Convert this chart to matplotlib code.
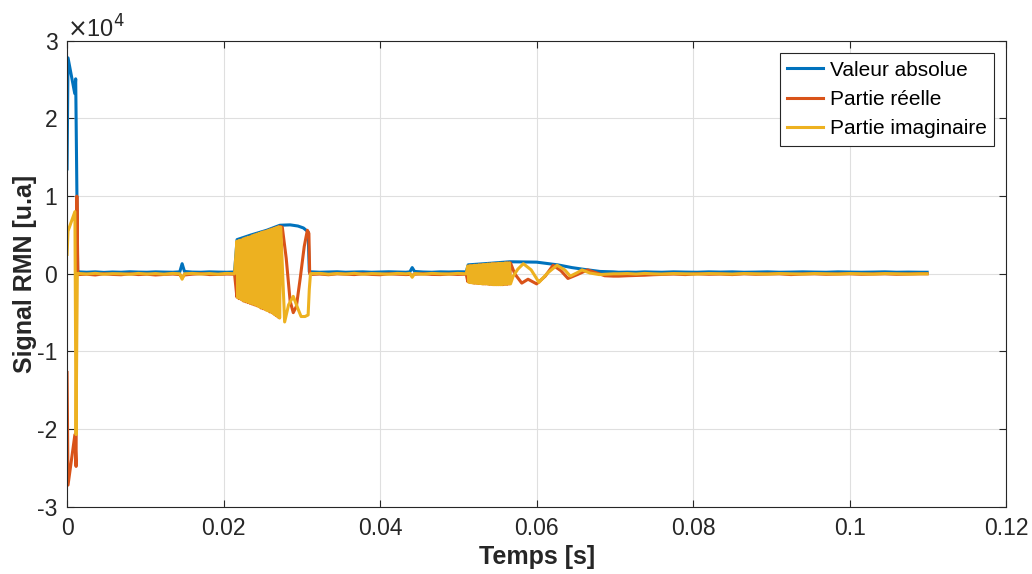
import numpy as np
import matplotlib
matplotlib.use('Agg')
import matplotlib.pyplot as plt
from matplotlib.ticker import FuncFormatter, MultipleLocator

plt.rcParams['font.family'] = ['Liberation Sans', 'DejaVu Sans']
plt.rcParams['axes.unicode_minus'] = False

labels = ['Valeur absolue', 'Partie réelle', 'Partie imaginaire']
colors = ['#0072BD', '#D95319', '#EDB120']

# initial spike
ini_t_abs = [0.0, 0.00012, 0.00098, 0.00110, 0.00126, 0.00135]
ini_abs = [13500, 27800, 23200, 25100, 9900, 250]
ini_t_re = [0.0, 0.00012, 0.00100, 0.00115, 0.00125, 0.00138]
ini_re = [-12700, -27200, -20700, -24800, 10000, -100]
ini_t_im = [0.0, 0.00012, 0.00100, 0.00115, 0.00130]
ini_im = [2500, 5500, 8000, -20700, 0]

# quiet part 1
q1_t = [0.0014, 0.0025, 0.0036, 0.0047, 0.0058, 0.0069, 0.0080, 0.0091, 0.0102, 0.0113,
        0.0124, 0.0135, 0.0144, 0.0147, 0.0150, 0.0160, 0.0171, 0.0182, 0.0193, 0.0204, 0.0214]
q1_abs = [250, 200, 250, 180, 230, 200, 260, 220, 200, 250, 220, 200, 250, 1300, 300, 220, 200, 250, 220, 200, 230]
q1_re = [-100, -50, -150, 0, -80, -120, 0, -100, -50, -150, -80, -30, -100, -500, -150, -50, 20, -100, -80, -30, -50]
q1_im = [50, -30, 60, -50, 20, 0, -60, 50, -30, 30, -50, 50, 0, -700, 0, 50, -30, 30, -50, 50, 0]

# burst 1 (dense part)
b1_t = [0.02170, 0.02184, 0.02198, 0.02212, 0.02226, 0.02240, 0.02254, 0.02268, 0.02282, 0.02296,
        0.02310, 0.02324, 0.02338, 0.02352, 0.02366, 0.02380, 0.02394, 0.02408, 0.02422, 0.02436,
        0.02450, 0.02464, 0.02478, 0.02492, 0.02506, 0.02520, 0.02534, 0.02548, 0.02562, 0.02576,
        0.02590, 0.02604, 0.02618, 0.02632, 0.02646, 0.02660, 0.02674, 0.02688, 0.02702, 0.02716]
b1_im = [4200, -3100, 4300, -3200, 4350, -3400, 4500, -3500, 4600, -3600, 4700, -3700, 4750, -3800,
         4900, -3900, 5000, -4000, 5100, -4150, 5200, -4300, 5300, -4400, 5400, -4500, 5450, -4700,
         5550, -4800, 5650, -4900, 5750, -5100, 5850, -5300, 5950, -5500, 6050, -5700]
b1_re = [-3000, 4200, -3200, 4300, -3300, 4400, -3500, 4500, -3600, 4600, -3700, 4700, -3800, 4800,
         -3900, 4900, -4000, 5000, -4100, 5100, -4200, 5200, -4400, 5300, -4500, 5400, -4600, 5500,
         -4700, 5600, -4900, 5700, -5000, 5800, -5200, 5900, -5400, 6000, -5600, 6100]
# burst 1 (slow part)
b1s_t_re = [0.02750, 0.02800, 0.02850, 0.02890, 0.02930, 0.02980, 0.03030, 0.03070, 0.03090, 0.03100, 0.03110]
b1s_re = [6000, 2000, -3500, -5000, -4200, -500, 3500, 5600, 5200, 0, -50]
b1s_t_im = [0.02730, 0.02780, 0.02830, 0.02890, 0.02950, 0.02990, 0.03040, 0.03080, 0.03095, 0.03110]
b1s_im = [6000, -6200, -4000, -2900, -4500, -5500, -5500, -5300, -2000, 0]
b1_t_abs = [0.02172, 0.0235, 0.0255, 0.0272, 0.0285, 0.0295, 0.0302, 0.0308, 0.03095]
b1_abs = [4400, 5000, 5600, 6250, 6300, 6150, 5900, 5400, 250]

# quiet part 2
q2_t = [0.0312, 0.0323, 0.0334, 0.0345, 0.0356, 0.0367, 0.0378, 0.0389, 0.0400, 0.0411,
        0.0422, 0.0433, 0.0438, 0.0441, 0.0444, 0.0455, 0.0466, 0.0477, 0.0488, 0.0499, 0.0510]
q2_abs = [250, 200, 230, 260, 200, 230, 250, 200, 230, 260, 230, 200, 250, 800, 300, 230, 200, 250, 230, 260, 250]
q2_re = [-80, -30, -120, 0, -50, -100, 0, -80, -120, 0, -50, -100, -80, -200, -50, 0, -80, -100, -30, -80, -50]
q2_im = [30, 50, -50, 30, -30, 60, -50, 30, 0, -50, 50, 0, 50, -450, 30, -50, 50, 0, -30, 50, 0]

# burst 2 (dense part)
b2_t = [0.05120, 0.05134, 0.05148, 0.05162, 0.05176, 0.05190, 0.05204, 0.05218, 0.05232, 0.05246,
        0.05260, 0.05274, 0.05288, 0.05302, 0.05316, 0.05330, 0.05344, 0.05358, 0.05372, 0.05386,
        0.05400, 0.05414, 0.05428, 0.05442, 0.05456, 0.05470, 0.05484, 0.05498, 0.05512, 0.05526,
        0.05540, 0.05554, 0.05568, 0.05582, 0.05596, 0.05610, 0.05624, 0.05638, 0.05652, 0.05666]
b2_im = [1000, -1100, 1050, -1150, 1050, -1200, 1100, -1200, 1100, -1250, 1150, -1250, 1150, -1300,
         1200, -1300, 1200, -1300, 1250, -1350, 1250, -1350, 1300, -1400, 1300, -1400, 1300, -1400,
         1350, -1400, 1350, -1400, 1350, -1350, 1400, -1350, 1400, -1300, 1400, -1300]
b2_re = [-1000, 1000, -1100, 1050, -1150, 1050, -1200, 1100, -1200, 1100, -1250, 1150, -1250, 1150,
         -1300, 1200, -1300, 1200, -1300, 1250, -1350, 1250, -1350, 1300, -1400, 1300, -1400, 1300,
         -1400, 1350, -1400, 1350, -1400, 1350, -1350, 1400, -1350, 1400, -1300, 1400]
# burst 2 (slow part)
b2s_t_re = [0.0572, 0.0581, 0.0589, 0.0600, 0.0611, 0.0621, 0.0631, 0.0640, 0.0652, 0.0665, 0.0677, 0.0687, 0.0698]
b2s_re = [0, -1200, -700, -1300, -300, 1100, 400, -600, -100, 500, 100, -250, -300]
b2s_t_im = [0.0570, 0.0576, 0.0583, 0.0593, 0.0603, 0.0614, 0.0626, 0.0636, 0.0643, 0.0651, 0.0658, 0.0668, 0.0680, 0.0698]
b2s_im = [-300, 600, 1300, 500, -1100, 100, 1100, 500, -300, 100, 500, 100, -100, 0]
b2_t_abs = [0.05125, 0.0540, 0.0566, 0.0600, 0.0627, 0.0645, 0.0662, 0.0681, 0.0698]
b2_abs = [1150, 1350, 1550, 1500, 1150, 800, 550, 300, 250]

# quiet part 3
q3_t = [0.0705, 0.0716, 0.0727, 0.0738, 0.0749, 0.0760, 0.0775, 0.0790, 0.0805, 0.0820,
        0.0835, 0.0850, 0.0865, 0.0880, 0.0895, 0.0910, 0.0925, 0.0940, 0.0955, 0.0970,
        0.0985, 0.1000, 0.1015, 0.1030, 0.1045, 0.1060, 0.1075, 0.1090, 0.1099]
q3_abs = [200, 220, 200, 250, 220, 200, 250, 220, 200, 250, 220, 250, 200, 220, 250, 200, 220, 250,
          220, 200, 250, 220, 200, 220, 250, 200, 220, 200, 200]
q3_re = [-300, -250, -220, -180, -120, -80, -30, -100, 0, -60, -30, -100, 0, -60, -30, 0, -100,
         -30, 0, -60, -30, 0, -60, -30, 0, -60, -30, 0, 0]
q3_im = [0, 30, -30, 50, 0, -30, 30, 0, -30, 30, 0, -30, 30, 0, -30, 30, 0, -30, 30, 0, -30, 30,
         0, -30, 30, 0, -30, 0, 0]

t_abs = ini_t_abs + q1_t + b1_t_abs + q2_t + b2_t_abs + q3_t
v_abs = ini_abs + q1_abs + b1_abs + q2_abs + b2_abs + q3_abs
t_re = ini_t_re + q1_t + b1_t + b1s_t_re + q2_t + b2_t + b2s_t_re + q3_t
v_re = ini_re + q1_re + b1_re + b1s_re + q2_re + b2_re + b2s_re + q3_re
t_im = ini_t_im + q1_t + b1_t + b1s_t_im + q2_t + b2_t + b2s_t_im + q3_t
v_im = ini_im + q1_im + b1_im + b1s_im + q2_im + b2_im + b2s_im + q3_im

fig = plt.figure(figsize=(10.32, 5.74), dpi=100)
ax = fig.add_axes([0.065, 0.117, 0.910, 0.812])

for t, v, c, lab in zip([t_abs, t_re, t_im], [v_abs, v_re, v_im], colors, labels):
    ax.plot(t, v, color=c, lw=2.2, label=lab)

ax.set_xlim(0, 0.12)
ax.set_ylim(-30000, 30000)
ax.xaxis.set_major_locator(MultipleLocator(0.02))
ax.xaxis.set_major_formatter(FuncFormatter(lambda x, p: '%g' % round(x, 4)))
ax.yaxis.set_major_locator(MultipleLocator(10000))
ax.yaxis.set_major_formatter(FuncFormatter(lambda y, p: '%d' % round(y / 1e4)))
ax.text(0.0, 0.995, r'$\times$10$^{4}$', transform=ax.transAxes, fontsize=17,
        color='#262626', ha='left', va='bottom')

ax.grid(True, color='#dfdfdf', lw=0.8)
ax.set_axisbelow(True)
ax.tick_params(direction='in', length=5, width=0.8, top=True, right=True,
               labelsize=16.5, colors='#262626', pad=7)
for s in ax.spines.values():
    s.set_color('#262626')
    s.set_linewidth(0.8)

ax.set_xlabel('Temps [s]', fontsize=18, fontweight='bold', color='#262626', labelpad=4)
ax.set_ylabel('Signal RMN [u.a]', fontsize=18, fontweight='bold', color='#262626', labelpad=0)

leg = ax.legend(loc='upper right', fontsize=15, fancybox=False, framealpha=1,
                edgecolor='#262626', handlelength=1.75, handletextpad=0.3,
                labelspacing=0.5, borderpad=0.35, borderaxespad=0.6)
leg.get_frame().set_linewidth(0.8)

fig.savefig('out.png', dpi=100)
